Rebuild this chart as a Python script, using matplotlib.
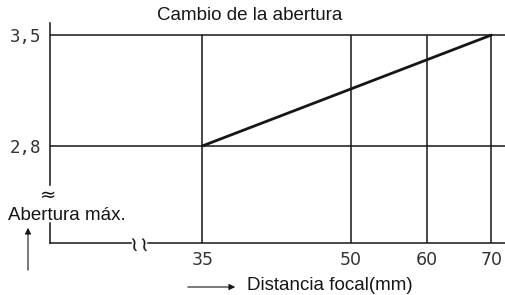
import matplotlib.pyplot as plt
import numpy as np

# focal length (mm) vs maximum aperture
focal = [35, 70]
aperture = [2.8, 3.5]
x_ticks = [35, 50, 60, 70]
x_labels = ['35', '50', '60', '70']
y_ticks = [2.8, 3.5]
y_labels = ['2,8', '3,5']

W, H = 506, 295
fig = plt.figure(figsize=(W / 100, H / 100), dpi=100)
fig.patch.set_facecolor('white')


def fx(px):
    return px / W


def fy(py):
    return 1 - py / H


# plot area: pixel x 50..506, y 23..243
ax = fig.add_axes([fx(50), fy(243), fx(506) - fx(50), fy(23) - fy(243)])
ax.set_xscale('log')
ax.set_xlim(24.3, 72.5)
ax.set_ylim(2.188, 3.576)
for s in ax.spines.values():
    s.set_visible(False)

ink = '#161616'
# horizontal grid lines
for y in y_ticks:
    ax.axhline(y, color=ink, lw=1.1)
# vertical grid lines down to the base line
ax.vlines(x_ticks, 2.188, 3.5, color=ink, lw=1.1)
# data line
ax.plot(focal, aperture, color=ink, lw=2.0, solid_capstyle='round')

# left axis with break
ax.plot([0, 0], [1.0, 0.265], transform=ax.transAxes, color=ink, lw=1.1, clip_on=False)
ax.plot([0, 0], [0.09, 0.0], transform=ax.transAxes, color=ink, lw=1.1, clip_on=False)
fig.text(fx(48), fy(195), '\u2248', ha='center', va='center', fontsize=14, color=ink)

# bottom line with break
ax.plot([0, 0.177], [0, 0], transform=ax.transAxes, color=ink, lw=1.1, clip_on=False)
ax.plot([0.215, 1.0], [0, 0], transform=ax.transAxes, color=ink, lw=1.1, clip_on=False)
for px in [133, 143]:
    fig.text(fx(px), fy(242), '~', ha='center', va='center', fontsize=15,
             color=ink, rotation=100)

ax.set_xticks(x_ticks)
ax.set_xticklabels(x_labels)
ax.xaxis.set_minor_locator(plt.NullLocator())
ax.set_yticks(y_ticks)
ax.set_yticklabels(y_labels, family='DejaVu Sans Mono')
ax.tick_params(axis='x', length=0, pad=6, labelsize=12.5, labelcolor='#333333')
ax.tick_params(axis='y', length=0, pad=6, labelsize=12.5, labelcolor='#333333')

sans = 'Liberation Sans'
fig.text(fx(250), fy(16), 'Cambio de la abertura', ha='center', va='center',
         fontsize=13.5, family=sans, color=ink)
fig.text(fx(8), fy(215), 'Abertura máx.', ha='left', va='center',
         fontsize=13.5, family=sans, color=ink)
fig.text(fx(247), fy(285), 'Distancia focal(mm)', ha='left', va='center',
         fontsize=13.5, family=sans, color=ink)

# arrows
fig.add_artist(plt.Annotation('', xy=(fx(28), fy(225)), xytext=(fx(28), fy(273)),
                              xycoords='figure fraction', textcoords='figure fraction',
                              arrowprops=dict(arrowstyle='-|>', color=ink, lw=0.8,
                                              mutation_scale=9)))
fig.add_artist(plt.Annotation('', xy=(fx(238), fy(287)), xytext=(fx(185), fy(287)),
                              xycoords='figure fraction', textcoords='figure fraction',
                              arrowprops=dict(arrowstyle='-|>', color=ink, lw=0.8,
                                              mutation_scale=9)))

fig.savefig('out.png', dpi=100)
